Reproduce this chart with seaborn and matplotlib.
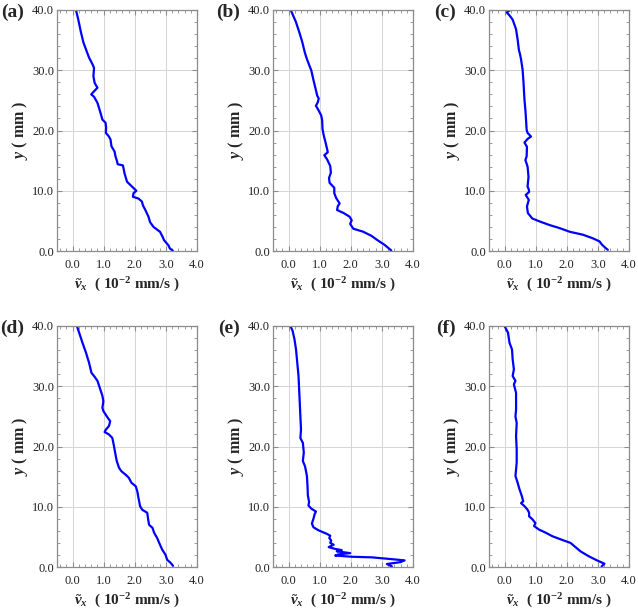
import pandas as pd
import matplotlib.pyplot as plt
import seaborn as sns
from matplotlib.ticker import MultipleLocator, FormatStrFormatter

# perfis de velocidade: y em mm, vx em 10^-2 mm/s (de cima para baixo)
y_a = [40.0, 38.5, 36.3, 34.6, 33.2, 32.1, 31.0, 30.4, 29.0, 27.9, 27.1, 26.5, 26.0, 25.6,
       24.6, 22.9, 21.8, 21.3, 20.5, 19.6, 19.0, 18.5, 17.4, 16.5, 15.7, 14.9, 14.4, 14.2,
       12.9, 11.5, 10.7, 10.0, 9.6, 9.0, 8.7, 8.2, 7.6, 6.8, 5.7, 4.8, 4.0, 3.2, 2.3, 1.8,
       0.95, 0.4, 0.1]
vx_a = [0.11, 0.18, 0.27, 0.35, 0.45, 0.53, 0.64, 0.69, 0.67, 0.71, 0.80, 0.69, 0.60, 0.69,
        0.80, 0.90, 0.96, 1.06, 1.08, 1.07, 1.17, 1.22, 1.25, 1.35, 1.38, 1.43, 1.45, 1.62,
        1.67, 1.75, 1.91, 2.05, 1.96, 1.94, 2.12, 2.23, 2.26, 2.34, 2.44, 2.49, 2.60, 2.81, 2.90, 2.94,
        3.08, 3.13, 3.22]

y_b = [40.0, 38.1, 36.4, 34.7, 33.0, 32.0, 30.9, 30.0, 28.6, 26.9, 25.8, 25.3, 24.7, 24.1,
       23.3, 22.5, 21.7, 20.3, 19.2, 18.0, 16.9, 16.4, 15.9, 15.2, 14.1, 13.0, 12.1, 11.3,
       10.5, 9.6, 8.8, 7.9, 7.4, 6.8, 6.3, 5.7, 5.1, 4.5, 3.7, 3.2, 2.5, 1.9, 1.0, 0.1]
vx_b = [0.07, 0.23, 0.34, 0.44, 0.52, 0.58, 0.66, 0.73, 0.79, 0.87, 0.92, 0.97, 0.94, 0.88,
        0.97, 1.05, 1.08, 1.09, 1.13, 1.19, 1.24, 1.26, 1.15, 1.24, 1.34, 1.36, 1.30, 1.32,
        1.47, 1.47, 1.53, 1.64, 1.58, 1.56, 1.77, 1.96, 2.03, 1.98, 2.08, 2.40, 2.67, 2.83, 3.09, 3.30]

y_c = [40.0, 39.6, 39.1, 38.4, 36.8, 35.1, 33.4, 32.6, 31.8, 30.1, 27.9, 25.1, 23.4, 21.8,
       20.1, 19.6, 19.0, 18.6, 18.0, 17.3, 15.7, 15.1, 14.0, 12.3, 10.7, 10.2, 9.8, 9.3,
       8.5, 7.4, 6.3, 5.4, 4.9, 4.3, 3.8, 3.2, 2.7, 2.1, 1.6, 1.0, 0.4, 0.2]
vx_c = [0.18, 0.07, 0.16, 0.26, 0.37, 0.42, 0.46, 0.50, 0.53, 0.58, 0.61, 0.64, 0.67, 0.69,
        0.71, 0.74, 0.85, 0.74, 0.64, 0.72, 0.71, 0.67, 0.74, 0.77, 0.74, 0.78, 0.79, 0.68,
        0.78, 0.72, 0.75, 0.89, 1.13, 1.45, 1.77, 2.09, 2.52, 2.84, 3.05, 3.14, 3.27, 3.32]

y_d = [40.0, 38.3, 37.2, 35.6, 33.9, 32.2, 31.7, 30.9, 29.5, 28.4, 27.5, 26.4, 25.9, 25.0,
       24.2, 23.4, 22.8, 22.4, 22.0, 21.4, 20.1, 18.4, 17.6, 17.0, 16.5, 15.9, 15.3, 14.8,
       14.0, 13.4, 12.6, 11.7, 10.9, 10.1, 9.5, 9.0, 7.9, 7.0, 6.5, 5.7, 4.8, 3.7, 2.9, 2.0,
       1.2, 0.7, 0.2]
vx_d = [0.14, 0.25, 0.32, 0.43, 0.53, 0.61, 0.69, 0.80, 0.89, 0.96, 0.99, 0.96, 0.99, 1.10,
        1.21, 1.17, 1.07, 1.03, 1.17, 1.28, 1.33, 1.39, 1.42, 1.46, 1.49, 1.57, 1.71, 1.81,
        1.89, 2.03, 2.08, 2.11, 2.14, 2.17, 2.24, 2.40, 2.43, 2.46, 2.57, 2.62, 2.72, 2.81, 2.88, 2.99,
        3.04, 3.15, 3.23]

y_e = [40.0, 39.2, 37.8, 36.1, 33.9, 31.7, 29.5, 27.3, 25.0, 22.8, 21.4, 20.6, 19.0, 17.6,
       16.7, 15.1, 13.4, 11.9, 10.8, 10.2, 9.7, 9.2, 8.8, 8.0, 7.2, 6.6, 6.1, 5.5, 5.2, 4.8,
       4.4, 4.0, 3.7, 3.3, 3.0, 2.8, 2.6, 2.3, 2.1, 1.9, 1.7, 1.6, 1.3, 1.1, 0.8, 0.5, 0.1]
vx_e = [0.06, 0.13, 0.19, 0.24, 0.28, 0.32, 0.34, 0.36, 0.38, 0.40, 0.38, 0.46, 0.49, 0.46,
        0.53, 0.59, 0.61, 0.62, 0.66, 0.64, 0.73, 0.88, 0.84, 0.80, 0.75, 0.80, 0.96, 1.23, 1.34, 1.31,
        1.37, 1.34, 1.45, 1.29, 1.50, 1.71, 1.55, 1.98, 1.61, 1.50, 2.04, 2.68, 3.32, 3.73, 3.59, 3.16, 3.32]

y_f = [40.0, 38.9, 37.2, 36.1, 34.5, 32.8, 31.7, 30.9, 30.3, 28.9, 26.1, 25.0, 23.9, 21.7,
       19.5, 17.3, 16.2, 15.1, 14.0, 12.9, 11.7, 10.9, 10.6, 10.1, 9.5, 9.0, 8.4, 7.9, 7.3,
       6.8, 6.2, 5.7, 5.1, 4.5, 4.0, 3.3, 2.6, 1.8, 1.1, 0.55, 0.1]
vx_f = [0.00, 0.11, 0.16, 0.24, 0.26, 0.30, 0.26, 0.35, 0.30, 0.37, 0.37, 0.35, 0.39, 0.37,
        0.39, 0.39, 0.37, 0.35, 0.42, 0.48, 0.56, 0.60, 0.53, 0.64, 0.74, 0.79, 0.79, 0.90, 0.99,
        0.95, 1.11, 1.32, 1.54, 1.85, 2.12, 2.28, 2.44, 2.70, 2.97, 3.21, 3.12]

letras = ["(a)", "(b)", "(c)", "(d)", "(e)", "(f)"]
perfis = [(y_a, vx_a), (y_b, vx_b), (y_c, vx_c), (y_d, vx_d), (y_e, vx_e), (y_f, vx_f)]

sns.set_theme(style="ticks")
plt.rcParams["font.family"] = ["Liberation Serif", "DejaVu Serif"]
plt.rcParams["mathtext.fontset"] = "custom"
plt.rcParams["mathtext.rm"] = "Liberation Serif:bold"
plt.rcParams["mathtext.it"] = "Liberation Serif:italic:bold"
plt.rcParams["mathtext.bf"] = "Liberation Serif:bold"

W, H = 638, 610
esq = [57, 273, 489]
topo = [10, 326]
lx, ly = 140, 241

fig = plt.figure(figsize=(W / 100, H / 100), dpi=100)

for i, (yy, vx) in enumerate(perfis):
    L = esq[i % 3]
    T = topo[i // 3]
    ax = fig.add_axes([L / W, 1 - (T + ly) / H, lx / W, ly / H])
    df = pd.DataFrame({"vx": vx, "y": yy})
    sns.lineplot(data=df, x="vx", y="y", sort=False, estimator=None,
                 color="#0000ff", lw=1.6, ax=ax)
    ax.set_xlim(-0.5, 4.0)
    ax.set_ylim(0, 40)
    ax.xaxis.set_major_locator(MultipleLocator(1.0))
    ax.xaxis.set_minor_locator(MultipleLocator(0.2))
    ax.yaxis.set_major_locator(MultipleLocator(10.0))
    ax.yaxis.set_minor_locator(MultipleLocator(2.0))
    ax.xaxis.set_major_formatter(FormatStrFormatter("%.1f"))
    ax.yaxis.set_major_formatter(FormatStrFormatter("%.1f"))
    ax.grid(True, which="major", color="#d4d4d4", lw=0.7)
    for s in ax.spines.values():
        s.set_color("#8c8c8c")
        s.set_linewidth(0.9)
    ax.tick_params(which="both", direction="in", top=True, right=True,
                   color="#8c8c8c", labelsize=9, labelcolor="#222222")
    ax.tick_params(which="major", length=3.5, width=0.8)
    ax.tick_params(which="minor", length=2, width=0.6)
    ax.tick_params(axis="x", pad=6)
    ax.tick_params(axis="y", pad=2)
    ax.set_xlabel(r"$\tilde{v}_x$  ( 10$^{-2}$ mm/s )", fontsize=11,
                  fontweight="bold", va="center")
    ax.xaxis.set_label_coords(0.5, -34 / ly)
    ax.set_ylabel(r"$y$ ( mm )", fontsize=11.5, fontweight="bold", va="center")
    ax.yaxis.set_label_coords(-37 / lx, 0.5)
    fig.text((L - 33) / W, 1 - (T + 2) / H, letras[i], ha="right", va="center",
             fontsize=14, fontweight="bold")

fig.savefig("out.png", dpi=100)
